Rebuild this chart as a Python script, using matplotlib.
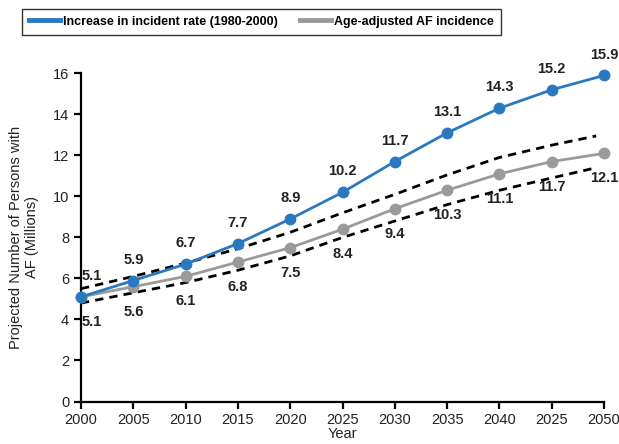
import matplotlib
matplotlib.use('Agg')
import matplotlib.pyplot as plt

plt.rcParams['font.family'] = ['Liberation Sans', 'DejaVu Sans']

years = ['2000', '2005', '2010', '2015', '2020', '2025', '2030', '2035', '2040', '2025', '2050']
incident_rate = [5.1, 5.9, 6.7, 7.7, 8.9, 10.2, 11.7, 13.1, 14.3, 15.2, 15.9]
age_adjusted = [5.1, 5.6, 6.1, 6.8, 7.5, 8.4, 9.4, 10.3, 11.1, 11.7, 12.1]
# dashed bounds around the age-adjusted projection (stop just short of 2050)
bound_x = [0, 1, 2, 3, 4, 5, 6, 7, 8, 9, 9.85]
bound_upper = [5.5, 6.1, 6.75, 7.45, 8.25, 9.2, 10.1, 11.05, 11.9, 12.5, 12.95]
bound_lower = [4.8, 5.3, 5.8, 6.4, 7.1, 8.0, 8.8, 9.6, 10.3, 10.9, 11.4]

BLUE = '#2a79c0'
GRAY = '#9a9a9a'
TXT = '#222222'

fig = plt.figure(figsize=(6.19, 4.44), dpi=100)
ax = fig.add_axes([81 / 619, 0.0957, (604 - 81) / 619, 0.739])

xs = list(range(len(years)))
ax.plot(bound_x, bound_upper, ls=(0, (3, 2.2)), color='black', lw=2.0, zorder=2)
ax.plot(bound_x, bound_lower, ls=(0, (3, 2.2)), color='black', lw=2.0, zorder=2)
ax.plot(xs, age_adjusted, '-o', color=GRAY, lw=2.0, ms=7.5, clip_on=False, zorder=3,
        label='Age-adjusted AF incidence')
ax.plot(xs, incident_rate, '-o', color=BLUE, lw=2.0, ms=7.5, clip_on=False, zorder=4,
        label='Increase in incident rate (1980-2000)')

for i, v in enumerate(incident_rate):
    dx = 8 if i == 0 else 0
    ax.annotate(f'{v}', (i, v), xytext=(dx, 10), textcoords='offset points',
                ha='center', va='bottom', fontsize=10.5, fontweight='bold', color=TXT)
for i, v in enumerate(age_adjusted):
    dx = 8 if i == 0 else 0
    ax.annotate(f'{v}', (i, v), xytext=(dx, -13), textcoords='offset points',
                ha='center', va='top', fontsize=10.5, fontweight='bold', color=TXT)

ax.set_xlim(0, 10)
ax.set_ylim(0, 16)
ax.set_xticks(xs)
ax.set_xticklabels(years)
ax.set_yticks(range(0, 17, 2))
for s in ['top', 'right']:
    ax.spines[s].set_visible(False)
for s in ['left', 'bottom']:
    ax.spines[s].set_linewidth(1.6)
ax.tick_params(direction='out', length=5, width=1.6, labelsize=10.5, colors='black',
               labelcolor=TXT)
ax.set_xlabel('Year', fontsize=10.5, labelpad=0, color=TXT)
ax.set_ylabel('Projected Number of Persons with\nAF (Millions)', fontsize=10.5,
              color=TXT, labelpad=10)

h, l = ax.get_legend_handles_labels()
leg = fig.legend(h[::-1], l[::-1], loc='upper left', bbox_to_anchor=(22 / 619, 1 - 9 / 444),
                 ncol=2, frameon=True, fancybox=False, edgecolor='black',
                 prop={'weight': 'bold', 'size': 9}, handlelength=2.5, columnspacing=1.75,
                 borderpad=0.55, handletextpad=0.25, borderaxespad=0)
leg.get_frame().set_linewidth(1.0)
for line in leg.get_lines():
    line.set_marker('')
    line.set_linewidth(3.5)

fig.savefig('out.png', dpi=100)
